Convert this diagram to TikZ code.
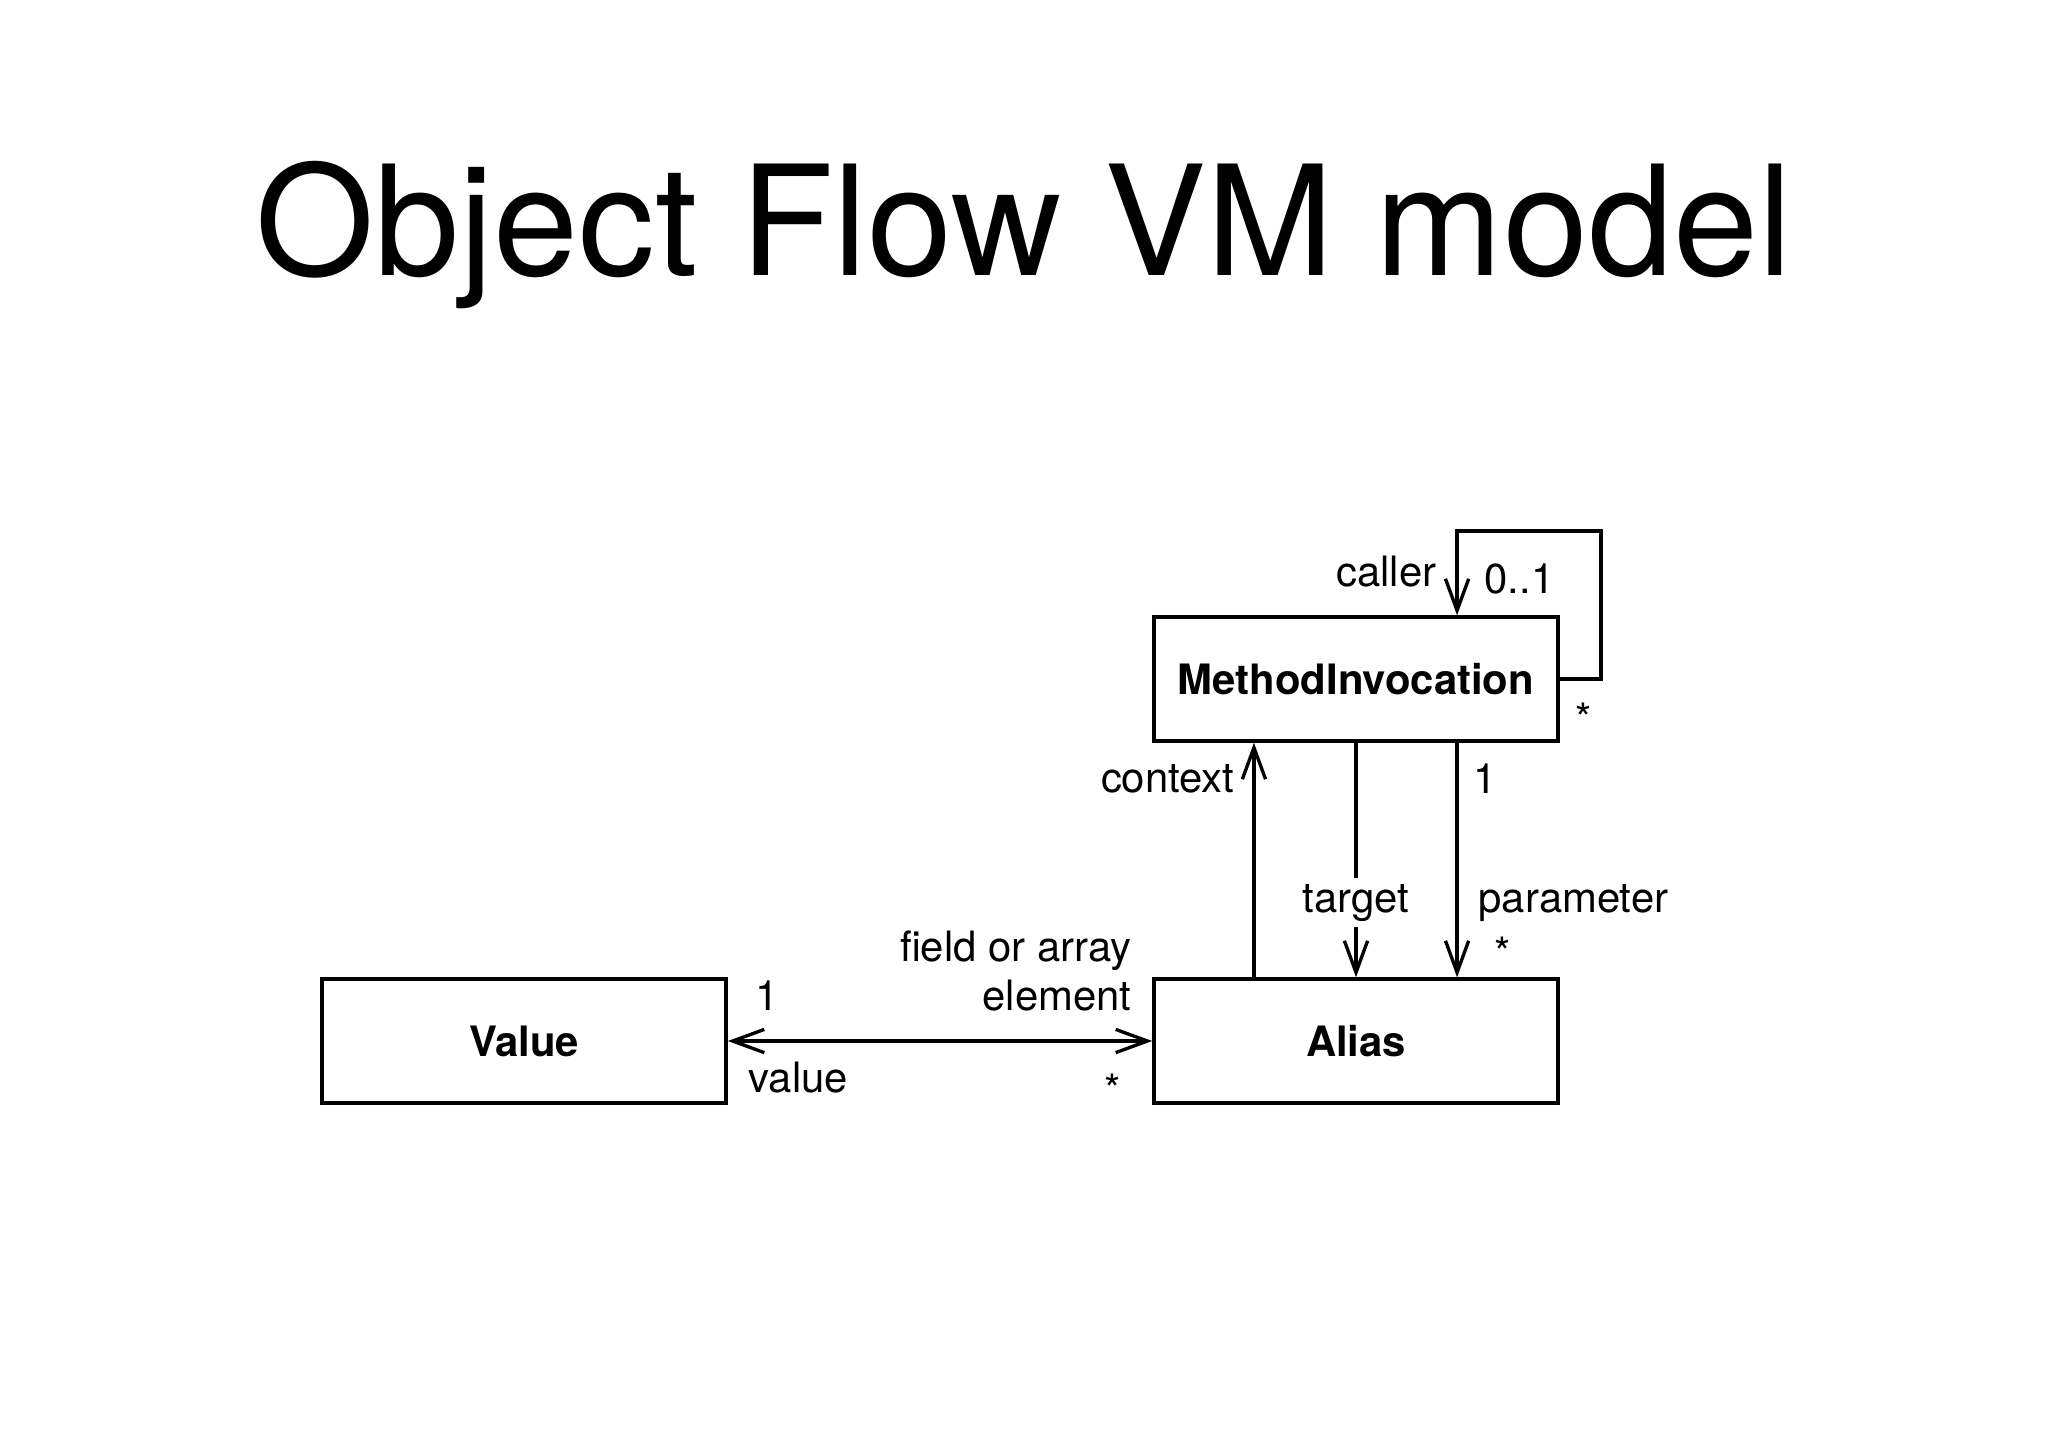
\documentclass[tikz,border=0pt]{standalone}
\usepackage{fontspec}
\setmainfont{TeX Gyre Heros}
\usetikzlibrary{arrows.meta}

\begin{document}
\begin{tikzpicture}[x=0.01cm,y=0.01cm]
                \tikzstyle{every node}+=[inner sep=0pt, font=\fontsize{11.9}{14}\selectfont]
                \tikzstyle{cls}=[draw=black, line width=0.95pt, minimum width=4.04cm, minimum height=1.24cm, font=\fontsize{11.9}{14}\selectfont\bfseries]
                \tikzstyle{assoc}=[black, line width=0.95pt, -{Straight Barb[length=9pt,width=6.6pt]}]
                \tikzstyle{assocboth}=[black, line width=0.95pt, {Straight Barb[length=9pt,width=6.6pt]}-{Straight Barb[length=9pt,width=6.6pt]}]
                \useasboundingbox (0,0) rectangle (2048,-1448);
                \draw (1024,-275) node [anchor=base, font=\fontsize{43.5}{50}\selectfont] (title) {Object Flow VM model};
                \node [cls] (mi) at (1356,-679) {MethodInvocation};
                \node [cls] (alias) at (1356,-1041) {Alias};
                \node [cls] (value) at (524,-1041) {Value};
                \coordinate (loop) at (1601,-531);
                \draw [assoc] (mi.east) -| (loop) -| ([xshift=1.01cm]mi.north);
                \node [anchor=base east] (caller) at (1437,-586) {caller};
                \node [anchor=base west] (callermult) at (1484,-593) {0..1};
                \node [anchor=base] (callstar) at (1584,-733) {*};
                \draw [assoc] ([xshift=-1.02cm]alias.north) -- ([xshift=-1.02cm]mi.south);
                \node [anchor=base east] (context) at (1235,-792) {context};
                \node [anchor=base, inner ysep=1.5pt] (target) at (1356,-912) {target};
                \draw [black, line width=0.95pt] (mi.south) -- (target.north);
                \draw [assoc] (target.south) -- (alias.north);
                \draw [assoc] ([xshift=1.01cm]mi.south) -- ([xshift=1.01cm]alias.north);
                \node [anchor=base west] (parammult) at (1473,-793) {1};
                \node [anchor=base west] (parameter) at (1478,-912) {parameter};
                \node [anchor=base] (paramstar) at (1503,-967) {*};
                \draw [assocboth] (value.east) -- (alias.west);
                \node [anchor=base east] (field) at (1132,-961) {field or array};
                \node [anchor=base east] (element) at (1132,-1010) {element};
                \node [anchor=base west] (valuemult) at (755,-1010) {1};
                \node [anchor=base west] (valuelbl) at (748,-1092) {value};
                \node [anchor=base] (fieldstar) at (1113,-1104) {*};
\end{tikzpicture}
\end{document}
